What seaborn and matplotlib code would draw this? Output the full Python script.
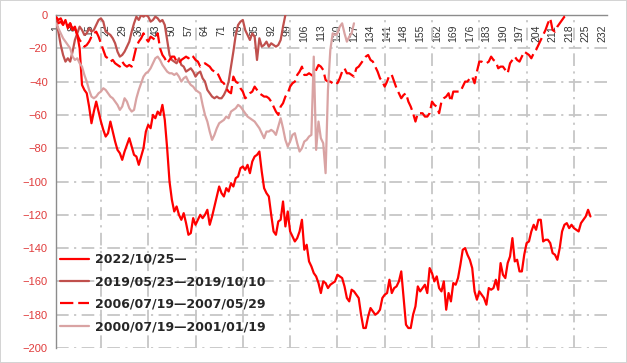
import numpy as np
import pandas as pd
import matplotlib
matplotlib.use('Agg')
import matplotlib.pyplot as plt
import seaborn as sns

# series names as shown in the legend
names = ['2022/10/25—', '2019/05/23—2019/10/10', '2006/07/19—2007/05/29', '2000/07/19—2001/01/19']

# values, one per trading day
s2022 = [-2, -5, -4, -6, -3, -8, -5, -9, -7, -12,
         -20, -42, -45, -47, -55, -65, -58, -52, -58, -64,
         -69, -73, -71, -64, -70, -76, -81, -83, -87, -82,
         -78, -74, -79, -84, -85, -90, -85, -80, -70, -66,
         -68, -60, -62, -58, -60, -54, -63, -80, -100, -111,
         -118, -115, -120, -123, -119, -125, -132, -131, -122, -126,
         -123, -120, -122, -120, -117, -126, -121, -115, -109, -103,
         -107, -109, -104, -106, -101, -103, -98, -97, -92, -91,
         -93, -90, -95, -88, -85, -84, -82, -94, -104, -107,
         -109, -120, -130, -132, -124, -123, -112, -127, -118, -130,
         -133, -136, -134, -130, -123, -141, -138, -148, -151, -155,
         -157, -161, -167, -160, -161, -164, -162, -161, -160, -156,
         -157, -158, -163, -170, -172, -165, -166, -168, -170, -180,
         -188, -188, -181, -176, -178, -180, -179, -177, -170, -168,
         -167, -159, -167, -164, -163, -160, -154, -170, -186, -188,
         -188, -180, -175, -163, -166, -164, -162, -167, -152, -155,
         -160, -157, -164, -166, -160, -177, -167, -172, -161, -162,
         -158, -150, -141, -140, -144, -147, -152, -166, -171, -166,
         -168, -170, -174, -164, -165, -164, -159, -165, -149, -156,
         -158, -149, -145, -134, -148, -147, -154, -154, -144, -137,
         -136, -130, -126, -129, -123, -123, -136, -135, -135, -137,
         -143, -144, -147, -140, -130, -126, -125, -128, -126, -128,
         -129, -130, -125, -123, -121, -117, -121]

s2019 = [-3, -10, -18, -24, -28, -26, -28, -22, -15, -11,
         -7, -9, -12, -11, -8, -10, -9, -6, -3, -2,
         -4, -10, -11, -12, -14, -17, -22, -25, -24, -22,
         -19, -16, -10, -5, -1, -3, 0, -1, 0, -1,
         -4, -3, -1, -2, -4, -3, -6, -15, -24, -27,
         -28, -29, -26, -30, -31, -34, -33, -32, -34, -37,
         -35, -34, -38, -40, -45, -47, -49, -50, -49, -50,
         -50, -48, -45, -40, -31, -22, -12, -6, -4, -3,
         -9, -12, -15, -11, -13, -27, -14, -19, -18, -16,
         -19, -17, -18, -19, -18, -15, -7, 0]

s2006 = [-1, -3, -2, -5, -4, -7, -5, -9, -8, -12,
         -15, -17, -19, -18, -16, -13, -11, -10, -13, -17,
         -21, -25, -26, -28, -27, -29, -30, -31, -28, -30,
         -31, -30, -31, -25, -19, -16, -14, -11, -14, -16,
         -13, -14, -15, -11, -20, -24, -26, -29, -27, -25,
         -25, -28, -29, -27, -26, -25, -26, -24, -25, -27,
         -28, -31, -30, -29, -30, -31, -33, -34, -34, -37,
         -40, -41, -44, -46, -47, -37, -40, -41, -44, -46,
         -50, -49, -47, -46, -43, -45, -47, -48, -49, -49,
         -50, -52, -55, -58, -60, -55, -53, -49, -47, -43,
         -41, -40, -36, -34, -31, -36, -36, -35, -36, -37,
         -33, -30, -31, -33, -39, -40, -40, -41, -40, -41,
         -38, -34, -32, -35, -35, -36, -37, -32, -31, -29,
         -27, -25, -24, -27, -28, -31, -34, -38, -40, -43,
         -40, -36, -36, -40, -44, -47, -50, -48, -47, -52,
         -55, -59, -64, -59, -59, -59, -61, -61, -59, -52,
         -54, -55, -59, -52, -50, -49, -47, -52, -46, -46,
         -46, -46, -43, -40, -40, -38, -37, -41, -34, -28,
         -28, -29, -29, -28, -25, -27, -28, -32, -31, -31,
         -33, -35, -29, -27, -25, -27, -28, -25, -22, -23,
         -24, -26, -23, -21, -18, -15, -12, -9, -5, -2,
         -9, -10, -7, -5, -3, -1, 0]

s2000 = [-5, -8, -11, -14, -16, -18, -20, -25, -27, -26,
         -29, -31, -36, -40, -45, -49, -50, -49, -47, -46,
         -44, -45, -47, -49, -50, -52, -54, -57, -55, -50,
         -52, -56, -58, -57, -50, -45, -41, -37, -35, -34,
         -32, -29, -26, -25, -27, -30, -32, -34, -35, -35,
         -36, -35, -37, -40, -38, -37, -40, -42, -43, -45,
         -46, -47, -54, -60, -64, -70, -75, -72, -68, -65,
         -64, -63, -61, -62, -58, -57, -56, -54, -55, -57,
         -59, -61, -62, -63, -64, -66, -68, -71, -74, -70,
         -70, -69, -70, -72, -67, -62, -68, -75, -79, -76,
         -72, -71, -77, -82, -80, -76, -75, -73, -72, -25,
         -81, -64, -74, -77, -95, -45, -21, -11, -12, -11,
         -7, -5, -11, -16, -13, -11, -5]

x_ticks = list(range(1, 233, 7))
x_grid = list(range(20, 234, 20))
y_ticks = list(range(-200, 1, 20))

colors = ['#ff0000', '#c0504d', '#ff0000', '#d9a3a3']
styles = ['-', '-', (0, (6, 2.2)), '-']

sns.set_style('white')
plt.rcParams['font.family'] = ['Liberation Sans', 'DejaVu Sans']

fig = plt.figure(figsize=(6.27, 3.63), dpi=100, linewidth=1.2, edgecolor='#d4d4d4')
ax = fig.add_axes([56 / 627, 1 - 348 / 363, 551 / 627, 333 / 363])

grid_kw = dict(color='#c6c6c6', linewidth=1.3, linestyle=(0, (7, 3, 1.2, 3)))

for name, vals, col, ls in zip(names, [s2022, s2019, s2006, s2000], colors, styles):
    d = pd.DataFrame({'day': np.arange(1, len(vals) + 1), 'value': vals})
    sns.lineplot(data=d, x='day', y='value', ax=ax, color=col, linestyle=ls,
                 linewidth=1.6, label=name, estimator=None, zorder=3)

ax.set_xlim(1, 234)
ax.set_ylim(-200, 0)
ax.set_xlabel('')
ax.set_ylabel('')

# vertical guide lines every 20 days
for gx in x_grid:
    ax.axvline(gx, zorder=1, **grid_kw)

# x axis sits on y=0, labels hang below it
ax.tick_params(axis='x', length=0, top=True, bottom=False,
               labeltop=True, labelbottom=False, pad=-7, labelsize=7.5, labelcolor='#333333')
ax.set_xticks(x_ticks, [str(t) for t in x_ticks], rotation=90, va='top')
ax.set_yticks(y_ticks)
ax.tick_params(axis='y', length=0, pad=6, labelsize=8, labelcolor='#e03c3c')

ax.xaxis.grid(False)
ax.yaxis.grid(True, **grid_kw)
ax.set_axisbelow(True)

for side in ['right', 'bottom']:
    ax.spines[side].set_visible(False)
for side in ['top', 'left']:
    ax.spines[side].set_color('#8c8c8c')
    ax.spines[side].set_linewidth(1)

handles, labs = ax.get_legend_handles_labels()
handles, labs = handles[:4], labs[:4]
ax.legend(handles, labs, loc='center left', bbox_to_anchor=(0.008, 0.165), frameon=False,
          prop={'family': 'DejaVu Sans', 'weight': 'bold', 'size': 9},
          handlelength=2.3, handletextpad=0.5, labelspacing=0.75,
          borderpad=0, borderaxespad=0)

fig.savefig('out.png', dpi=100, edgecolor=fig.get_edgecolor())
